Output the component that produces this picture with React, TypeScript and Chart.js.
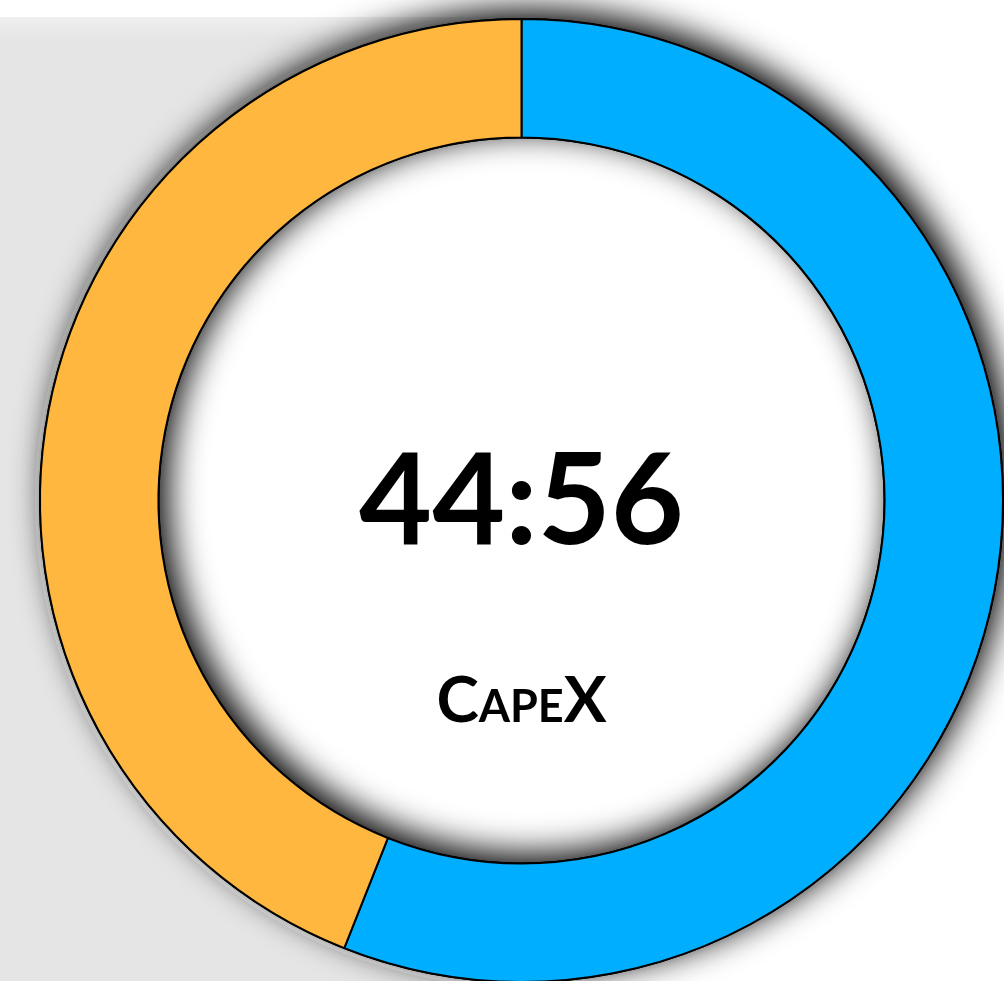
import React, { useEffect, useRef } from "react";
import { Chart, registerables } from "chart.js";

Chart.register(...registerables);

const categories = ["Share B", "Share A"];
const values = [56, 44];
const colors = ["#00AEFF", "#FFB740"];
const centerValue = "44:56";
const centerLabel = "CapeX";

const ringPlugin = {
  id: "ringDecor",
  beforeDatasetsDraw(chart: any) {
    const meta = chart.getDatasetMeta(0);
    const arc = meta.data[0];
    if (!arc) return;
    const { x, y, outerRadius, innerRadius } = arc.getProps(["x", "y", "outerRadius", "innerRadius"], true);
    const ctx = chart.ctx;
    ctx.save();
    // light halo
    ctx.beginPath();
    ctx.arc(x, y, outerRadius + 5, 0, Math.PI * 2);
    ctx.fillStyle = "rgba(250,250,250,0.85)";
    ctx.fill();
    // white hole
    ctx.beginPath();
    ctx.arc(x, y, innerRadius, 0, Math.PI * 2);
    ctx.fillStyle = "#ffffff";
    ctx.fill();
    // ring with shadow
    ctx.beginPath();
    ctx.arc(x, y, outerRadius + 1, 0, Math.PI * 2);
    ctx.arc(x, y, innerRadius - 1, Math.PI * 2, 0, true);
    ctx.closePath();
    ctx.shadowColor = "rgba(0,0,0,1)";
    ctx.shadowBlur = 34;
    ctx.shadowOffsetX = 8;
    ctx.shadowOffsetY = -8;
    ctx.fillStyle = "#000";
    ctx.fill("evenodd");
    ctx.restore();
  },
  afterDatasetsDraw(chart: any) {
    const meta = chart.getDatasetMeta(0);
    const arc = meta.data[0];
    if (!arc) return;
    const { x, y } = arc.getProps(["x", "y"], true);
    const ctx = chart.ctx;
    ctx.save();
    ctx.fillStyle = "#000";
    ctx.textAlign = "center";
    ctx.textBaseline = "middle";
    ctx.font = "bold 126px Lato, 'Open Sans', sans-serif";
    ctx.fillText(centerValue, x, y + 3);
    ctx.font = "small-caps bold 64px Lato, 'Open Sans', sans-serif";
    ctx.fillText(centerLabel, x, y + 201);
    ctx.restore();
  },
};

export default function App() {
  const ref = useRef<HTMLCanvasElement | null>(null);
  useEffect(() => {
    if (!ref.current) return;
    const chart = new Chart(ref.current, {
      type: "doughnut",
      data: {
        labels: categories,
        datasets: [
          {
            data: values,
            backgroundColor: colors,
            borderColor: "#000",
            borderWidth: 2,
          },
        ],
      },
      options: {
        responsive: false,
        animation: false,
        cutout: "75.4%",
        layout: { padding: { left: 39, top: 18, right: 6, bottom: 7 } },
        plugins: { legend: { display: false }, tooltip: { enabled: false } },
      },
      plugins: [ringPlugin],
    });
    return () => chart.destroy();
  }, []);
  return (
    <div style={{ position: "absolute", left: 0, top: 0, width: 1004, height: 981, overflow: "hidden", background: "#fff" }}>
      <div
        style={{
          position: "absolute",
          left: 0,
          top: 17,
          width: 540,
          height: 964,
          background: "linear-gradient(#efefef 0px, #e5e5e5 22px, #e5e5e5 100%)",
        }}
      />
      <canvas ref={ref} width={1010} height={990} style={{ position: "absolute", left: 0, top: 0, width: 1010, height: 990 }} />
    </div>
  );
}
